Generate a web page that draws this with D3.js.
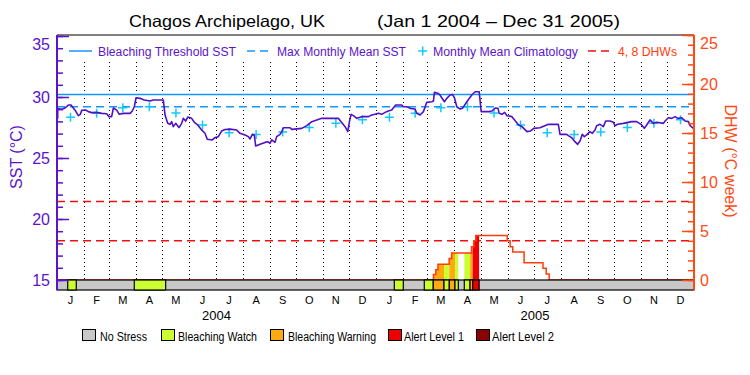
<!DOCTYPE html>
<html><head><meta charset="utf-8">
<script src="https://cdn.jsdelivr.net/npm/d3@7"></script>
<style>body{margin:0;background:#fff} svg{display:block} text{font-family:"Liberation Sans",Arial,sans-serif}</style>
</head><body><svg id="c" width="750" height="375"></svg>
<script>
// ---- data ----
const sstDay = [0,0.8,0.9,5.4,9.2,13,16.1,18.7,21.4,24.5,26.8,28.3,32.9,36,39.8,45.5,51.3,57,59.7,62.7,64.7,68.5,71.5,76.1,83.8,86.4,88.7,90.7,95.2,100.2,106.7,110.5,122,124,127,129.7,131.6,133.5,136.2,140,143.1,145,147.6,150,154.5,157.6,161.4,166,169.8,172.5,178.2,181.3,
185.1,188.9,192.8,198.5,206.2,210,215.8,219.6,221.5,224.2,226.4,228,233,238.7,241.8,244.4,246.4,250.2,252.1,256,257.9,259.8,267.5,269.4,280.9,286.6,292.4,303.8,322.9,326,330.6,333.7,335.6,337.5,340.2,344,349.8,357.4,361.2,
364.9,368.8,372.7,376.5,380.2,384.1,388.7,395.6,397.5,401.3,405.2,410.9,412.8,416.6,420.5,423.2,424.3,430.1,432,433.1,437.7,439.6,441.5,444.6,447.3,451.1,453.8,456.1,458.8,462.6,465.3,470.3,476,479.9,484.5,486.8,495.2,499,502.9,506,507.5,510.6,513.7,516.4,522.1,526,529.8,533.6,539.4,543.2,547.1,
554.3,563.8,575.3,577.2,584.8,586.8,590.6,594.4,597.5,600.2,602.8,605.1,607.8,611.6,614.3,617.4,619.3,623.1,627,629.6,634.6,638.4,640.3,643.4,649.9,659.5,665.2,670.2,674,676.7,680.5,684.4,688.2,695.9,697.8,701.6,705.5,709.3,712.4,717,720.8,724.6,726.5,730.4];
const sstVal = [28.25,28.25,29.05,28.99,29.1,29.34,29.34,29.1,28.85,28.47,28.58,28.9,28.93,28.8,28.72,28.74,28.66,28.63,28.39,28.39,29.1,28.93,28.58,28.66,28.66,28.85,29.2,29.94,29.89,29.75,29.67,29.75,29.75,28.52,27.84,27.76,27.98,27.57,27.84,27.49,27.84,28.25,28.03,28.36,28.25,27.93,27.71,27.3,27.03,26.54,26.48,26.67,
26.75,27.21,27.34,27.37,27.3,27.02,26.89,26.75,26.56,26.94,26.89,25.98,26.12,26.28,26.34,26.2,26.48,26.28,26.75,26.94,27.16,27.48,27.48,27.35,27.43,27.65,27.98,28.25,28.25,27.98,27.57,27.16,27.98,28.58,28.47,28.25,28.39,28.39,28.52,
28.58,28.66,28.58,28.74,28.85,28.93,29.34,29.34,29.2,29.2,29.07,29.01,28.66,28.52,28.8,29.34,29.56,29.61,29.67,30.38,30.29,30.16,29.94,29.61,29.89,30.16,30.21,29.94,29.2,29.01,29.07,29.61,30.16,30.43,30.43,28.8,28.8,28.85,29.1,29.07,28.66,28.58,28.74,28.47,28.39,28.03,27.71,27.57,27.16,27.21,27.43,
27.48,27.76,27.76,26.94,26.94,26.83,26.67,26.34,26.12,26.39,26.94,26.75,26.89,27.16,27.02,27.3,27.65,27.76,27.57,28.03,28.03,27.93,27.65,27.76,27.84,27.98,27.98,27.76,27.43,27.71,28.12,27.84,27.93,27.84,28.03,28.3,28.25,28.39,28.25,28.3,28.03,27.98,27.65,27.43];
const climVal = [28.34,28.66,29.12,29.2,28.68,27.7,27.07,26.93,27.13,27.5,27.84,28.14];
const mmmSST = 29.2;
const thresholdSST = 30.2;
const dhwLines = [4, 8];
const dhwDay = [0,432,434.7,437.2,450,452.9,475.7,478.3,480.6,516.6,520,523,536,557.7,561.4,564.8,731];
const dhwVal = [0,0.55,1.05,1.6,2.2,2.75,3.4,4.0,4.55,4.0,3.4,2.85,1.75,1.2,0.6,0,0];
const stressStart = [12.3,88.7,387.1,421.5,431.8,444.1,450.2,456.7,467.4,474,477];
const stressEnd   = [22.1,124.7,397.4,431.8,444.1,450.2,456.7,460.5,474,477,484.4];
const stressLevel = [1,1,1,1,2,1,2,1,1,2,3];
const stressNames = ["No Stress","Bleaching Watch","Bleaching Warning","Alert Level 1","Alert Level 2"];
const stressColors = ["#c8c8c8","#ccff33","#ffaa11","#ee0000","#8b0000"];
const monthLetters = ["J","F","M","A","M","J","J","A","S","O","N","D"];
const years = [2004, 2005];
const sstTicks = [15,20,25,30,35];
const dhwTicks = [0,5,10,15,20,25];

// ---- setup ----
const svg = d3.select("#c");
const L = 57, R = 694, T = 35, B = 290, barTop = 280;
const t0 = Date.UTC(2004,0,1), t1 = Date.UTC(2006,0,1);
const toDate = d => new Date(t0 + d*864e5);
const x = d3.scaleUtc().domain([t0, t1]).range([L, R]);
const yS = d3.scaleLinear().domain([15,35]).range([barTop, 36]);
const yD = d3.scaleLinear().domain([0,25]).range([barTop, T]);
const PURPLE = "#5a14cc", ORANGE = "#ff4a14", BLUE = "#1496ff", CYAN = "#14c8ff";

// month dotted lines
const months = d3.utcMonth.range(new Date(t0), new Date(t1));
svg.append("g").selectAll("line").data(months.slice(1)).join("line")
  .attr("x1", d => Math.round(x(d))+0.5).attr("x2", d => Math.round(x(d))+0.5)
  .attr("y1", 62).attr("y2", barTop)
  .attr("stroke", "#000").attr("stroke-width", 1).attr("stroke-dasharray", "1,3");

// SST reference lines
svg.append("line").attr("x1", L).attr("x2", R).attr("y1", yS(thresholdSST)).attr("y2", yS(thresholdSST))
  .attr("stroke", BLUE).attr("stroke-width", 1.5);
svg.append("line").attr("x1", L).attr("x2", R).attr("y1", yS(mmmSST)).attr("y2", yS(mmmSST))
  .attr("stroke", BLUE).attr("stroke-width", 1.5).attr("stroke-dasharray", "8,5");
svg.append("g").selectAll("line").data(dhwLines).join("line")
  .attr("x1", L).attr("x2", R).attr("y1", d => yD(d)).attr("y2", d => yD(d))
  .attr("stroke", "#ee1111").attr("stroke-width", 1.5).attr("stroke-dasharray", "8,5");

// DHW fills by stress segment
const dhwPts = dhwDay.map((d,i) => [toDate(d), dhwVal[i]]);
const area = d3.area().curve(d3.curveStepAfter).x(d => x(d[0])).y0(yD(0)).y1(d => yD(d[1]));
const defs = svg.append("defs");
stressStart.forEach((s,i) => {
  const id = "clip"+i;
  defs.append("clipPath").attr("id", id).append("rect")
    .attr("x", x(toDate(s))).attr("width", x(toDate(stressEnd[i])) - x(toDate(s)))
    .attr("y", T).attr("height", barTop - T);
  svg.append("path").datum(dhwPts).attr("d", area).attr("fill", stressColors[stressLevel[i]])
    .attr("clip-path", `url(#${id})`);
});
const line = d3.line().curve(d3.curveStepAfter).x(d => x(d[0])).y(d => yD(d[1]));
svg.append("path").datum(dhwPts).attr("d", line).attr("fill", "none").attr("stroke", "#ff3c0a").attr("stroke-width", 1.5);

// climatology pluses
const climPts = [];
years.forEach(yr => climVal.forEach((v,m) => {
  const a = Date.UTC(yr,m,1), b = Date.UTC(yr,m+1,1);
  climPts.push([new Date((a+b)/2), v]);
}));
svg.append("g").selectAll("path").data(climPts).join("path")
  .attr("transform", d => `translate(${x(d[0])},${yS(d[1])})`)
  .attr("d", "M-4.5,0H4.5M0,-4.5V4.5").attr("stroke", CYAN).attr("stroke-width", 1.5);

// SST line
const sstPts = sstDay.map((d,i) => [toDate(d), sstVal[i]]);
svg.append("path").datum(sstPts)
  .attr("d", d3.line().x(d => x(d[0])).y(d => yS(d[1])))
  .attr("fill", "none").attr("stroke", "#5010c4").attr("stroke-width", 1.6).attr("stroke-linejoin", "round");

// stress bar
svg.append("rect").attr("x", L).attr("y", barTop).attr("width", R-L).attr("height", B-barTop)
  .attr("fill", stressColors[0]).attr("stroke", "#000").attr("stroke-width", 1.2);
svg.append("g").selectAll("rect").data(stressStart).join("rect")
  .attr("x", d => x(toDate(d))).attr("y", barTop)
  .attr("width", (d,i) => x(toDate(stressEnd[i])) - x(toDate(d))).attr("height", B-barTop)
  .attr("fill", (d,i) => stressColors[stressLevel[i]]).attr("stroke", "#000").attr("stroke-width", 1.2);

// top frame
svg.append("line").attr("x1", L).attr("x2", R).attr("y1", T).attr("y2", T).attr("stroke", "#000").attr("stroke-width", 1.2);

// left axis
svg.append("line").attr("x1", L).attr("x2", L).attr("y1", T).attr("y2", B).attr("stroke", PURPLE).attr("stroke-width", 2);
const gl = svg.append("g").attr("transform", `translate(${L},0)`);
gl.call(d3.axisLeft(yS).tickValues(d3.range(15,36)).tickSize(-6).tickFormat(""));
gl.append("g").call(d3.axisLeft(yS).tickValues(sstTicks).tickSize(-12).tickPadding(7));
gl.selectAll(".domain").remove();
gl.selectAll("line").attr("stroke", PURPLE).attr("stroke-width", 1.5);
gl.selectAll("text").attr("fill", PURPLE).attr("font-size", 16).attr("font-family", "Liberation Sans, Arial, sans-serif")
  .attr("dy", d => d === 35 ? "0.85em" : "0.35em");

// right axis
svg.append("line").attr("x1", R).attr("x2", R).attr("y1", T).attr("y2", B).attr("stroke", ORANGE).attr("stroke-width", 2);
const gr = svg.append("g").attr("transform", `translate(${R},0)`);
gr.call(d3.axisRight(yD).tickValues(d3.range(0,26)).tickSize(-6).tickFormat(""));
gr.append("g").call(d3.axisRight(yD).tickValues(dhwTicks).tickSize(-12).tickPadding(6));
gr.selectAll(".domain").remove();
gr.selectAll("line").attr("stroke", ORANGE).attr("stroke-width", 1.5);
gr.selectAll("text").attr("fill", ORANGE).attr("font-size", 16).attr("font-family", "Liberation Sans, Arial, sans-serif")
  .attr("dy", d => d === 25 ? "0.85em" : "0.35em");

// axis titles
svg.append("text").attr("transform", "translate(22,157) rotate(-90)").attr("text-anchor", "middle")
  .attr("font-size", 16).attr("fill", PURPLE).text("SST (°C)");
svg.append("text").attr("transform", "translate(725,161) rotate(90)").attr("text-anchor", "middle")
  .attr("font-size", 16).attr("fill", ORANGE).text("DHW (°C week)");

// month and year labels
svg.append("g").selectAll("text").data(months).join("text")
  .attr("x", d => x(new Date((+d + +d3.utcMonth.offset(d,1))/2))).attr("y", 303.5)
  .attr("text-anchor", "middle").attr("font-size", 11).attr("fill", "#000")
  .text(d => monthLetters[d.getUTCMonth()]);
svg.append("g").selectAll("text").data(years).join("text")
  .attr("x", d => x(new Date((Date.UTC(d,0,1) + Date.UTC(d+1,0,1))/2))).attr("y", 320)
  .attr("text-anchor", "middle").attr("font-size", 13).attr("fill", "#000").text(d => d);

// title
svg.append("text").attr("x", 129).attr("y", 27).attr("font-size", 16.5).attr("textLength", 196)
  .attr("lengthAdjust", "spacingAndGlyphs").text("Chagos Archipelago, UK");
svg.append("text").attr("x", 377).attr("y", 27).attr("font-size", 16.5).attr("textLength", 243)
  .attr("lengthAdjust", "spacingAndGlyphs").text("(Jan 1 2004 – Dec 31 2005)");

// top legend
const tl = svg.append("g");
tl.append("line").attr("x1", 69).attr("x2", 92).attr("y1", 51).attr("y2", 51).attr("stroke", BLUE).attr("stroke-width", 1.5);
tl.append("line").attr("x1", 247).attr("x2", 268).attr("y1", 51).attr("y2", 51).attr("stroke", BLUE).attr("stroke-width", 1.5).attr("stroke-dasharray", "8,5");
tl.append("path").attr("d", "M418.2,51H427.2M422.7,46.5V55.5").attr("stroke", CYAN).attr("stroke-width", 1.5);
tl.append("line").attr("x1", 588).attr("x2", 612).attr("y1", 51).attr("y2", 51).attr("stroke", "#ee1111").attr("stroke-width", 1.5).attr("stroke-dasharray", "8,5");
const topLeg = [["Bleaching Threshold SST", 98, 138, PURPLE], ["Max Monthly Mean SST", 277, 129, PURPLE],
  ["Monthly Mean Climatology", 433, 145, PURPLE], ["4, 8 DHWs", 618, 59, "#ff3c0a"]];
tl.selectAll("text").data(topLeg).join("text").attr("x", d => d[1]).attr("y", 55.5)
  .attr("font-size", 12.5).attr("fill", d => d[3]).attr("textLength", d => d[2])
  .attr("lengthAdjust", "spacingAndGlyphs").text(d => d[0]);

// bottom legend
const boxX = [82,161,270,388,476], txtX = [100,178,288,404,492], txtW = [47,79,88,60,62];
const bl = svg.append("g");
bl.selectAll("rect").data(stressNames).join("rect").attr("x", (d,i) => boxX[i]+0.5).attr("y", 329.5)
  .attr("width", 13).attr("height", 11).attr("fill", (d,i) => stressColors[i]).attr("stroke", "#000").attr("stroke-width", 1);
bl.selectAll("text").data(stressNames).join("text").attr("x", (d,i) => txtX[i]).attr("y", 340.5)
  .attr("font-size", 12.5).attr("fill", "#000").attr("textLength", (d,i) => txtW[i])
  .attr("lengthAdjust", "spacingAndGlyphs").text(d => d);
</script></body></html>
